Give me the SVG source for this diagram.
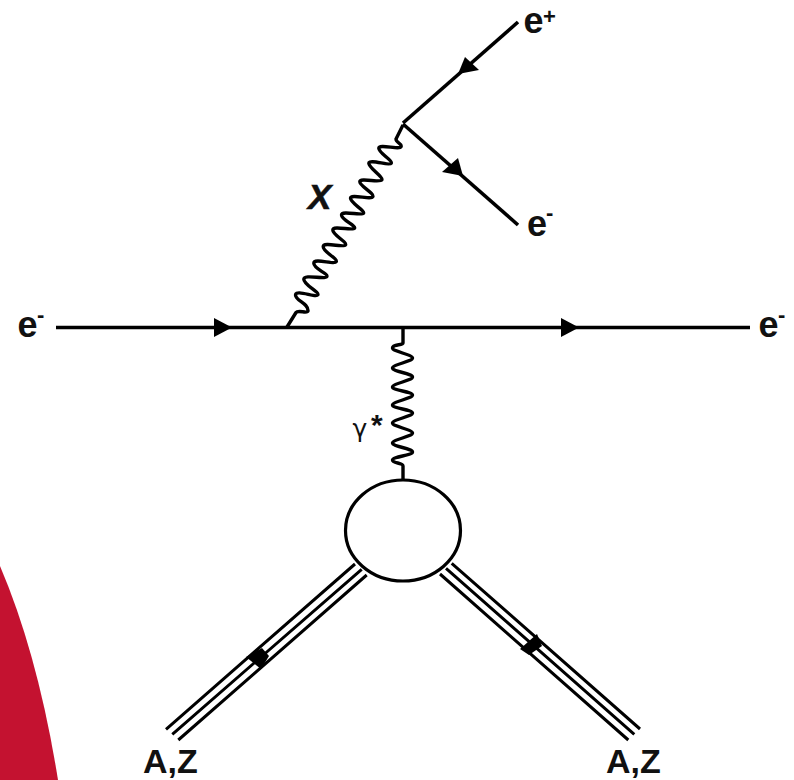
<svg xmlns="http://www.w3.org/2000/svg" width="794" height="780" viewBox="0 0 794 780">
<style>
.l{fill:none;stroke:#000;stroke-width:3.6;stroke-linecap:butt}
.w{fill:none;stroke:#000;stroke-width:3.4;stroke-linejoin:round}
.t{fill:none;stroke:#000;stroke-width:3}
.a{fill:#000;stroke:none}
text{font-family:"Liberation Sans",Arial,sans-serif;fill:#111}
.b{font-weight:700;font-size:36px}
.z{font-weight:700;font-size:34px}
.s{font-weight:700;font-size:22px}
</style>
<rect width="794" height="780" fill="#fff"/>
<path id="backdrop" d="M0,566 Q38,655 58,780 L0,780 Z" fill="#c41230"/>
<g id="connectors">
<path class="l" d="M56,327.5H750"/>
<path class="a" d="M214,318L232,327.5L214,337Z"/>
<path class="a" d="M561,318L579,327.5L561,337Z"/>
<path class="l" d="M518,22L403,123"/>
<path class="a" d="M465,57L479,70L458,74Z"/>
<path class="l" d="M403,124L518,225"/>
<path class="a" d="M458,158L463,176L442,172Z"/>
<path class="w" d="M287,327L296,312.5C298,309.5 307.5,314 308,311C308.5,303 295.5,301 295.5,295S316,298 317.8,295S303.8,285 303.8,279.3S325,280 326.8,276.7S313.8,269 313.8,263.3S334.5,265 336.2,261.7S323.2,252 323.2,246.7S343.8,248 345.5,245S332.8,235 332.8,230S352.8,231 354.5,228.3S341.5,220 341.5,215S361.8,216 363.5,213.3S350.5,203 350.5,198.3S371.1,200 372.8,196.7S359.8,186 359.8,181.7S380.1,183 381.8,180S368.8,168 368.8,163.3S389.5,166 391.2,163.3S378.8,153 378.8,148.3S399.5,150 401,146.7S396,143 396,139L403,125"/>
<path class="w" d="M403,328V343C403,345.5 392.5,344 392.5,348C392.5,351.5 412.5,354.5 412.5,358C412.5,361.5 392.5,364.5 392.5,368C392.5,371.5 412.5,373.5 412.5,377C412.5,380.5 392.5,383.5 392.5,387C392.5,390.5 412.5,391.5 412.5,395C412.5,398.5 392.5,401.5 392.5,405C392.5,408.5 412.5,409.5 412.5,413C412.5,416.5 392.5,419.5 392.5,423C392.5,426.5 412.5,429.5 412.5,433C412.5,436.5 392.5,439.5 392.5,443C392.5,446.5 412.5,448.5 412.5,452C412.5,455.5 392.5,456.5 392.5,460C392.5,463.5 403,462.5 403,466V481"/>
<g id="nucleus-left-lines">
<path class="t" d="M166,729.3L355,564M172.3,734.3L361.7,569.3M178.3,740L366.7,575"/>
<path class="a" d="M246,657L262,648L269,656L261,669Z"/>
</g>
<g id="nucleus-right-lines">
<path class="t" d="M640,729L451.7,563.3M634.3,734.3L446,568.3M628.3,740L440,574"/>
<path class="a" d="M537,634L542,646L529,655L520,649Z"/>
</g>
</g>
<g id="blob"><ellipse cx="403" cy="530.5" rx="57.5" ry="50.5" fill="#fff" stroke="#000" stroke-width="3.2"/></g>
<g id="label-e-in"><text class="b" x="17.5" y="337">e</text><text class="s" x="37" y="322">-</text></g>
<g id="label-e-out"><text class="b" x="758.5" y="337">e</text><text class="s" x="778" y="322">-</text></g>
<g id="label-e-plus"><text class="b" x="523.5" y="33">e</text><text class="s" x="543" y="24">+</text></g>
<g id="label-e-minus"><text class="b" x="527" y="236">e</text><text class="s" x="546" y="220">-</text></g>
<g id="label-x"><text x="308" y="209" font-size="35" font-weight="700" font-style="italic" stroke="#111" stroke-width=".6">X</text></g>
<g id="label-gamma"><text x="352.5" y="437" font-size="25" style="font-family:'DejaVu Sans',sans-serif">γ</text><text x="371" y="435" font-size="30" font-weight="700">*</text></g>
<g id="label-az-left"><text class="z" x="143" y="773">A,Z</text></g>
<g id="label-az-right"><text class="z" x="606" y="773">A,Z</text></g>
</svg>
